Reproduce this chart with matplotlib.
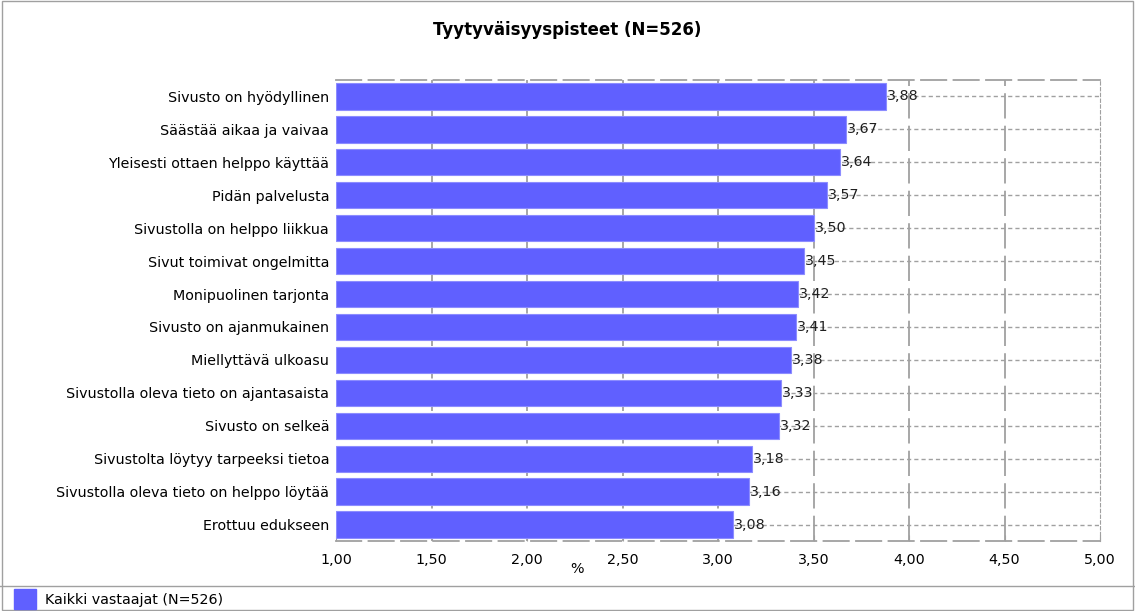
import matplotlib.pyplot as plt
from matplotlib.patches import Rectangle
from matplotlib.lines import Line2D

# datos
kysymykset = [
    "Sivusto on hyödyllinen",
    "Säästää aikaa ja vaivaa",
    "Yleisesti ottaen helppo käyttää",
    "Pidän palvelusta",
    "Sivustolla on helppo liikkua",
    "Sivut toimivat ongelmitta",
    "Monipuolinen tarjonta",
    "Sivusto on ajanmukainen",
    "Miellyttävä ulkoasu",
    "Sivustolla oleva tieto on ajantasaista",
    "Sivusto on selkeä",
    "Sivustolta löytyy tarpeeksi tietoa",
    "Sivustolla oleva tieto on helppo löytää",
    "Erottuu edukseen",
]
pisteet = [3.88, 3.67, 3.64, 3.57, 3.50, 3.45, 3.42, 3.41, 3.38, 3.33, 3.32, 3.18, 3.16, 3.08]
xtiks = [1.0, 1.5, 2.0, 2.5, 3.0, 3.5, 4.0, 4.5, 5.0]

plt.rcParams['font.family'] = ['DejaVu Sans']
fs = 10.3

fig = plt.figure(figsize=(11.35, 6.11), dpi=100)
ax = fig.add_axes([336 / 1135, 1 - 541 / 611, 764 / 1135, 461 / 611])

n = len(kysymykset)
y = list(range(n))

# pisteviivat palkkien kohdalla
for i in y:
    ax.plot([1.0, 5.0], [i, i], color='#a0a0a0', lw=1, dashes=(3, 2.2), zorder=1)
# pystyviivat
for t in xtiks[1:-1]:
    ax.axvline(t, color='#a0a0a0', lw=1.3, dashes=(14, 4), zorder=1)

ax.barh(y, [p - 1.0 for p in pisteet], left=1.0, height=0.8,
        color='#6060ff', edgecolor='#8c8cff', lw=0.8, zorder=2)

for i, p in zip(y, pisteet):
    ax.text(p + 0.005, i, f"{p:.2f}".replace('.', ','), va='center', ha='left',
            fontsize=fs, color='#202020', zorder=3)

ax.set_xlim(1.0, 5.0)
ax.set_ylim(n - 0.5, -0.5)
ax.set_yticks(y)
ax.set_yticklabels(kysymykset, fontsize=fs)
ax.set_xticks(xtiks)
ax.set_xticklabels([f"{t:.2f}".replace('.', ',') for t in xtiks], fontsize=fs)
ax.tick_params(axis='y', length=0, pad=5)
ax.tick_params(axis='x', direction='in', length=4, color='#a0a0a0', pad=9)
ax.set_xlabel('%', fontsize=fs)
ax.xaxis.set_label_coords(0.315, -0.046)

for s in ['top', 'bottom']:
    ax.spines[s].set_color('#a0a0a0')
    ax.spines[s].set_linestyle((0, (14, 4)))
    ax.spines[s].set_linewidth(1.3)
ax.spines['right'].set_color('#a0a0a0')
ax.spines['right'].set_linestyle((0, (3, 2.2)))
ax.spines['left'].set_visible(False)

fig.text(0.5, 1 - 30 / 611, 'Tyytyväisyyspisteet (N=526)', ha='center', va='center',
         fontsize=12, fontweight='bold')

# kehys ja selite
fig.add_artist(Rectangle((0.0015, 0.0015), 0.997, 0.997, transform=fig.transFigure,
                         fill=False, edgecolor='#a0a0a0', lw=1))
fig.add_artist(Line2D([0, 1], [1 - 586 / 611] * 2, transform=fig.transFigure,
                      color='#a0a0a0', lw=1))
fig.add_artist(Rectangle((14 / 1135, 1 - 609 / 611), 22 / 1135, 20 / 611,
                         transform=fig.transFigure, color='#6060ff'))
fig.text(45 / 1135, 1 - 600 / 611, 'Kaikki vastaajat (N=526)', va='center', fontsize=fs)

fig.savefig('out.png', dpi=100)
